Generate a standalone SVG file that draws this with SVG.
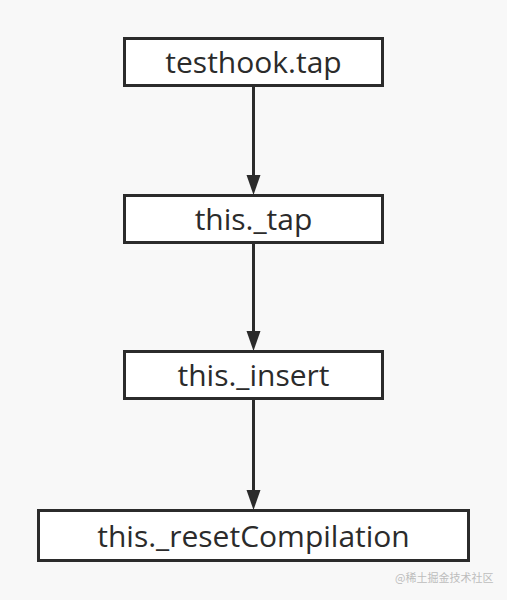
<svg xmlns="http://www.w3.org/2000/svg" width="507" height="600" viewBox="0 0 507 600">
<style>
.box{fill:#ffffff;stroke:#2b2b2b;stroke-width:3}
.lbl{font-family:"Open Sans","Liberation Sans",Arial,sans-serif;font-size:30px;font-weight:500;fill:#2b2b2b;text-anchor:middle}
.edge{stroke:#2b2b2b;stroke-width:3;fill:none}
.arr{fill:#2b2b2b}
.wm{font-family:"Noto Sans CJK SC",sans-serif;font-size:11px;fill:#bdbdbd}
</style>
<rect width="507" height="600" fill="#f8f8f8"/>
<g id="connectors">
<line class="edge" x1="253.5" y1="86" x2="253.5" y2="176"/>
<path class="arr" d="M246.5,175 L260.5,175 L253.5,195 Z"/>
<line class="edge" x1="253.5" y1="243" x2="253.5" y2="332"/>
<path class="arr" d="M246.5,331 L260.5,331 L253.5,351 Z"/>
<line class="edge" x1="253.5" y1="399" x2="253.5" y2="491"/>
<path class="arr" d="M246.5,490 L260.5,490 L253.5,510 Z"/>
</g>
<g id="n1">
<rect class="box" x="124.5" y="38.5" width="258" height="47"/>
<text class="lbl" x="253.5" y="73">testhook.tap</text>
</g>
<g id="n2">
<rect class="box" x="124.5" y="195.5" width="258" height="47"/>
<text class="lbl" x="253.5" y="230">this._tap</text>
</g>
<g id="n3">
<rect class="box" x="124.5" y="351.5" width="258" height="47"/>
<text class="lbl" x="253.5" y="386">this._insert</text>
</g>
<g id="n4">
<rect class="box" x="38.5" y="510.5" width="430" height="50"/>
<text class="lbl" x="253.5" y="547">this._resetCompilation</text>
</g>
<text class="wm" x="395" y="582">@稀土掘金技术社区</text>
</svg>
